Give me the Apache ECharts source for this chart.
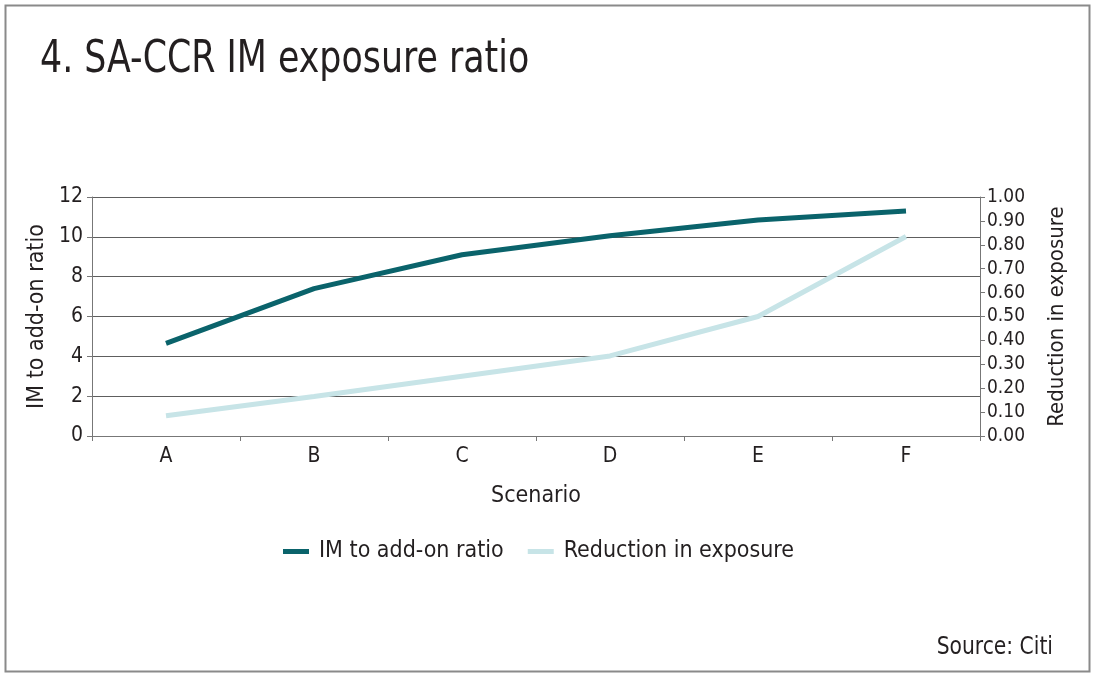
<!DOCTYPE html>
<html>
<head>
<meta charset="utf-8">
<script src="https://cdn.jsdelivr.net/npm/echarts@6/dist/echarts.min.js"></script>
<style>
html,body{margin:0;padding:0;background:#fff;}
#c{width:1095px;height:680px;}
</style>
</head>
<body>
<div id="c"></div>
<script>
var categories = ['A', 'B', 'C', 'D', 'E', 'F'];
var imRatio = [4.65, 7.4, 9.1, 10.05, 10.85, 11.3];
var reduction = [0.085, 0.165, 0.25, 0.335, 0.50, 0.835];
var leftTicks = [0, 2, 4, 6, 8, 10, 12];
var rightTicks = [0, 0.1, 0.2, 0.3, 0.4, 0.5, 0.6, 0.7, 0.8, 0.9, 1.0];

var FONT = "'Liberation Sans Narrow', 'DejaVu Sans Condensed', 'Noto Sans', sans-serif";
var TXT = '#231f20';
var DARK = '#0a636b';
var LIGHT = '#c7e4e7';

var chart = echarts.init(document.getElementById('c'));
chart.setOption({
  animation: false,
  backgroundColor: '#fff',
  textStyle: { fontFamily: FONT, color: TXT },
  graphic: [
    { type: 'rect', shape: { x: 5.5, y: 5.5, width: 1084, height: 666 },
      style: { fill: 'none', stroke: '#8a8a8a', lineWidth: 2 } },
    { type: 'text', x: 40, y: 39, scaleX: 0.88,
      style: { text: '4. SA-CCR IM exposure ratio', font: "44px " + FONT, fill: TXT,
        align: 'left', verticalAlign: 'top' } },
    { type: 'text', x: 1053, y: 636, scaleX: 0.94,
      style: { text: 'Source: Citi', font: "24px " + FONT, fill: TXT,
        align: 'right', verticalAlign: 'top' } }
  ],
  grid: { left: 92, right: 115, top: 197, bottom: 244, containLabel: false },
  legend: {
    bottom: 112, left: 278,
    itemWidth: 26, itemHeight: 5, itemGap: 24,
    icon: 'rect',
    textStyle: { fontFamily: FONT, fontSize: 23, color: TXT, padding: [0, 0, 0, 5] },
    data: ['IM to add-on ratio', 'Reduction in exposure']
  },
  xAxis: {
    type: 'category', data: categories, boundaryGap: true,
    name: 'Scenario', nameLocation: 'middle', nameGap: 49,
    nameTextStyle: { fontFamily: FONT, fontSize: 23, color: TXT },
    axisLine: { lineStyle: { color: '#777', width: 1 } },
    axisTick: { show: true, length: 5, lineStyle: { color: '#777' } },
    axisLabel: { fontFamily: FONT, fontSize: 21, color: TXT, margin: 10 }
  },
  yAxis: [
    {
      type: 'value', min: 0, max: 12, interval: 2,
      name: 'IM to add-on ratio', nameLocation: 'middle', nameGap: 42,
      nameTextStyle: { fontFamily: FONT, fontSize: 23, color: TXT },
      axisLine: { show: true, lineStyle: { color: '#777' } },
      axisTick: { show: true, length: 5, lineStyle: { color: '#777' } },
      axisLabel: { fontFamily: FONT, fontSize: 21, color: TXT, margin: 9 },
      splitLine: { show: true, lineStyle: { color: '#5e5e5e', width: 1 } }
    },
    {
      type: 'value', min: 0, max: 1, interval: 0.1, position: 'right',
      name: 'Reduction in exposure', nameLocation: 'middle', nameGap: 66,
      nameTextStyle: { fontFamily: FONT, fontSize: 22, color: TXT },
      axisLine: { show: true, lineStyle: { color: '#777' } },
      axisTick: { show: true, length: 5, lineStyle: { color: '#777' } },
      axisLabel: { fontFamily: FONT, fontSize: 19, color: TXT, margin: 7,
        formatter: function (v) { return v.toFixed(2); } },
      splitLine: { show: false }
    }
  ],
  series: [
    { name: 'IM to add-on ratio', type: 'line', yAxisIndex: 0, data: imRatio,
      showSymbol: false, symbol: 'none', color: DARK,
      lineStyle: { color: DARK, width: 5 } },
    { name: 'Reduction in exposure', type: 'line', yAxisIndex: 1, data: reduction,
      showSymbol: false, symbol: 'none', color: LIGHT,
      lineStyle: { color: LIGHT, width: 5 } }
  ]
});
</script>
</body>
</html>
